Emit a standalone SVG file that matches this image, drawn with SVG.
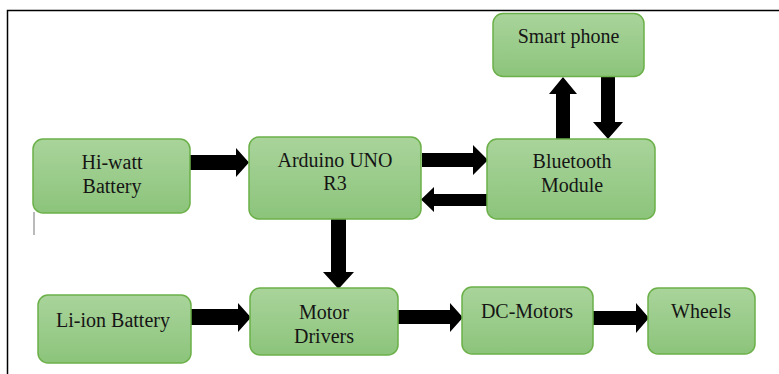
<svg xmlns="http://www.w3.org/2000/svg" width="779" height="374" viewBox="0 0 779 374">
<defs>
<linearGradient id="g" x1="0" y1="0" x2="0" y2="1">
<stop offset="0" stop-color="#a9d49b"/>
<stop offset="1" stop-color="#8cc47b"/>
</linearGradient>
<style>
.n{fill:url(#g);stroke:#6bb048;stroke-width:1.5}
.t{font-family:'Liberation Serif','DejaVu Serif Condensed','DejaVu Serif',serif;font-stretch:condensed;font-size:20px;fill:#151515;text-anchor:middle}
.a{fill:#000}
</style>
</defs>
<rect width="779" height="374" fill="#fff"/>
<path d="M7.5 374V10.5H779" fill="none" stroke="#000" stroke-width="1.5"/>
<line x1="34" y1="212" x2="34" y2="235" stroke="#777" stroke-width="1"/>
<g id="connectors">
<polygon class="a" points="190,155 236,155 236,148 249,162.5 236,177 236,170 190,170"/>
<polygon class="a" points="422,153 473,153 473,145 488,160 473,175 473,167 422,167"/>
<polygon class="a" points="487,194 434,194 434,187 421,199.5 434,212 434,206 487,206"/>
<polygon class="a" points="331,219 346,219 346,272 354,272 338.5,289 323,272 331,272"/>
<polygon class="a" points="556,139 556,94 549,94 563,77 577,94 570,94 570,139"/>
<polygon class="a" points="601,77 615,77 615,122 623,122 608,139 593,122 601,122"/>
<polygon class="a" points="191,309 238,309 238,303 251,317.5 238,332 238,325 191,325"/>
<polygon class="a" points="398,310 450,310 450,303 463,317.5 450,332 450,324 398,324"/>
<polygon class="a" points="593,311 636,311 636,303 649,318 636,333 636,325 593,325"/>
</g>
<g id="smartphone"><rect class="n" x="493" y="13.5" width="151" height="63" rx="10"/><text class="t" x="568.5" y="43">Smart phone</text></g>
<g id="hiwatt"><rect class="n" x="33" y="139" width="157" height="74" rx="10"/><text class="t" x="112" y="169">Hi-watt</text><text class="t" x="112" y="193">Battery</text></g>
<g id="arduino"><rect class="n" x="249" y="137" width="172" height="82" rx="10"/><text class="t" x="335" y="167">Arduino UNO</text><text class="t" x="335" y="190">R3</text></g>
<g id="bluetooth"><rect class="n" x="487" y="139" width="168" height="80" rx="10"/><text class="t" x="572" y="168">Bluetooth</text><text class="t" x="572" y="192">Module</text></g>
<g id="liion"><rect class="n" x="38" y="295" width="153" height="68" rx="10"/><text class="t" x="113" y="327">Li-ion Battery</text></g>
<g id="motordrivers"><rect class="n" x="250" y="288" width="148" height="67" rx="10"/><text class="t" x="324" y="319">Motor</text><text class="t" x="324" y="343">Drivers</text></g>
<g id="dcmotors"><rect class="n" x="462" y="287" width="131" height="67" rx="10"/><text class="t" x="527" y="318">DC-Motors</text></g>
<g id="wheels"><rect class="n" x="648" y="288" width="107" height="66" rx="10"/><text class="t" x="701" y="318">Wheels</text></g>
</svg>
